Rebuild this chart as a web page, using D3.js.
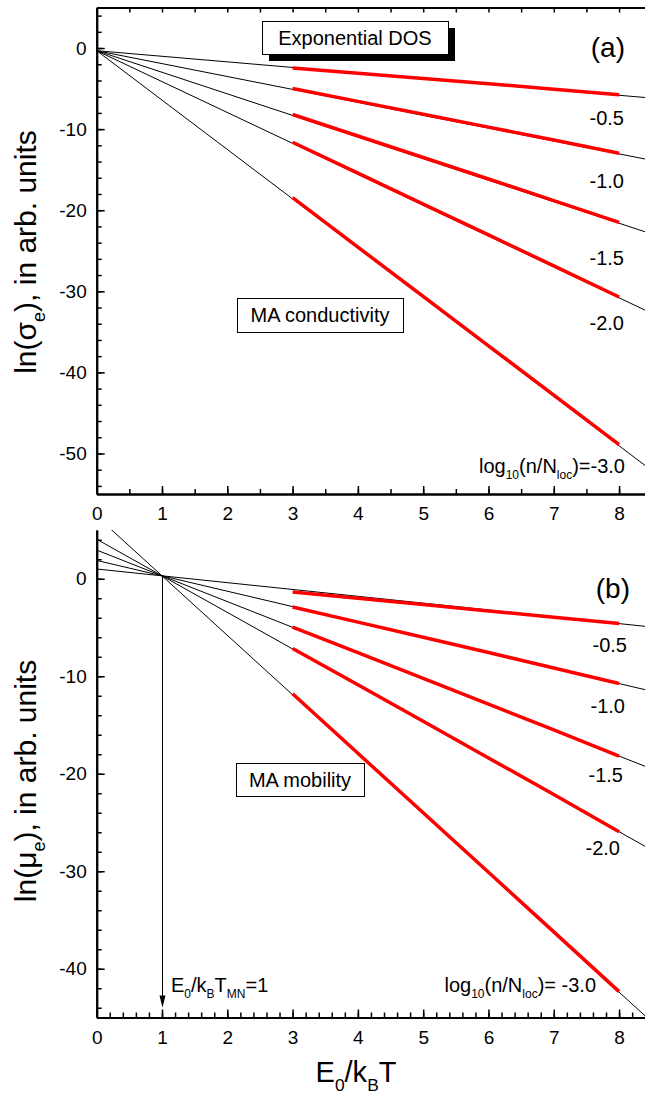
<!DOCTYPE html>
<html>
<head>
<meta charset="utf-8">
<script src="https://cdn.jsdelivr.net/npm/d3@7"></script>
<style>
  body { margin: 0; background: #fff; }
  svg { display: block; }
  text { font-family: "Liberation Sans", Arial, sans-serif; fill: #000; }
</style>
</head>
<body>
<svg></svg>
<script>
let svg = d3.select("svg").attr("width", 645).attr("height", 1094);

// tick labels
const xTicks = [0, 1, 2, 3, 4, 5, 6, 7, 8];
const sigmaTicks = [-50, -40, -30, -20, -10, 0];
const muTicks = [-40, -30, -20, -10, 0];
const densityLabels = ["-0.5", "-1.0", "-1.5", "-2.0"];

// simulated data (red), E0/kBT = 3..8
const redX = [3, 4, 5, 6, 7, 8];
const sigmaRed = [
  [-2.45, -3.1, -3.75, -4.4, -5.07, -5.75],
  [-5.0, -6.58, -8.16, -9.75, -11.35, -12.98],
  [-8.2, -10.85, -13.5, -16.15, -18.82, -21.5],
  [-11.62, -15.43, -19.24, -23.05, -26.86, -30.7],
  [-18.45, -24.55, -30.63, -36.72, -42.8, -48.9]
];
const muRed = [
  [-1.35, -2.0, -2.65, -3.3, -3.95, -4.6],
  [-2.9, -4.45, -6.0, -7.57, -9.15, -10.75],
  [-4.95, -7.58, -10.22, -12.86, -15.5, -18.2],
  [-7.15, -10.88, -14.62, -18.38, -22.12, -25.95],
  [-11.8, -17.9, -24.0, -30.1, -36.22, -42.35]
];

// straight fit lines (black), value at E0/kBT = 0 and 8.4
const fitX = [0, 8.4];
const sigmaFit = [
  [-0.33, -6.1],
  [-0.33, -13.69],
  [-0.33, -22.67],
  [-0.33, -32.33],
  [-0.33, -51.49]
];
const muFit = [
  [1.0, -4.88],
  [1.88, -11.38],
  [2.94, -19.24],
  [4.05, -27.45],
  [6.4, -44.84]
];

let x = d3.scaleLinear().domain([0, 8.4]).range([96.7, 645.2]);
let yTop = d3.scaleLinear().domain([-55, 5]).range([494, 7.5]);
let yBot = d3.scaleLinear().domain([-45, 5]).range([1017.5, 530]);

function styleAxis(g) {
  g.select(".domain").attr("stroke-width", 2);
  g.selectAll(".tick line").attr("stroke-width", 1.5);
  g.selectAll("text").attr("font-size", 19)
    .attr("font-family", "'Liberation Sans', Arial, sans-serif");
}

// text with subscripts: parts = [[text, isSub], ...]
function rich(t, parts, fs) {
  let shift = 0;
  parts.forEach(p => {
    let s = t.append("tspan").text(p[0]);
    if (p[1]) {
      s.attr("font-size", fs * 0.6).attr("dy", fs * 0.3 - shift);
      shift = fs * 0.3;
    } else if (shift) {
      s.attr("dy", -shift);
      shift = 0;
    }
  });
  return t;
}

function panel(y, yMin, yMax, yMajor, xMinorStep, red, fit, id, topBorder) {
  let g = svg.append("g");
  g.append("clipPath").attr("id", id).append("rect")
    .attr("x", x(0)).attr("y", y(yMax))
    .attr("width", x(8.4) - x(0)).attr("height", y(yMin) - y(yMax));

  let line = d3.line().x(d => x(d[0])).y(d => y(d[1]));
  let lines = g.append("g").attr("clip-path", `url(#${id})`);

  fit.forEach(f => {
    lines.append("path")
      .datum(fitX.map((v, i) => [v, f[i]]))
      .attr("d", line)
      .attr("fill", "none")
      .attr("stroke", "#000")
      .attr("stroke-width", 1);
  });
  red.forEach(r => {
    lines.append("path")
      .datum(redX.map((v, i) => [v, r[i]]))
      .attr("d", line)
      .attr("fill", "none")
      .attr("stroke", "#ff0000")
      .attr("stroke-width", 3.5);
  });

  // x axis
  g.append("g").attr("transform", `translate(0,${y(yMin)})`)
    .call(d3.axisBottom(x).tickValues(d3.range(0, 8.41, xMinorStep))
      .tickSizeInner(-5).tickSizeOuter(0).tickFormat(""))
    .call(styleAxis);
  g.append("g").attr("transform", `translate(0,${y(yMin)})`)
    .call(d3.axisBottom(x).tickValues(xTicks)
      .tickSizeInner(-8).tickSizeOuter(0).tickPadding(13)
      .tickFormat(d => String(d)))
    .call(styleAxis);

  // y axis
  g.append("g").attr("transform", `translate(${x(0)},0)`)
    .call(d3.axisLeft(y).tickValues(d3.range(yMin + 1, yMax, 2))
      .tickSizeInner(-5).tickSizeOuter(0).tickFormat(""))
    .call(styleAxis);
  g.append("g").attr("transform", `translate(${x(0)},0)`)
    .call(d3.axisLeft(y).tickValues(yMajor)
      .tickSizeInner(-8).tickSizeOuter(0).tickPadding(10)
      .tickFormat(d => String(d)))
    .call(styleAxis);

  if (topBorder) {
    g.append("g").attr("transform", `translate(0,${y(yMax)})`)
      .call(d3.axisTop(x).tickValues(d3.range(0, 8.41, 0.5))
        .tickSizeInner(-5).tickSizeOuter(0).tickFormat(""))
      .call(styleAxis);
  }
  return g;
}

panel(yTop, -55, 5, sigmaTicks, 0.5, sigmaRed, sigmaFit, "clipA", true);
panel(yBot, -45, 5, muTicks, 0.2, muRed, muFit, "clipB", false);

// annotation boxes
function box(x0, y0, w, h, label, shadow) {
  if (shadow) {
    svg.append("rect").attr("x", x0 + 7).attr("y", y0 + 7)
      .attr("width", w).attr("height", h).attr("fill", "#000");
  }
  svg.append("rect").attr("x", x0 + 0.5).attr("y", y0 + 0.5)
    .attr("width", w).attr("height", h)
    .attr("fill", "#fff").attr("stroke", "#000").attr("stroke-width", 1);
  svg.append("text").attr("x", x0 + w / 2).attr("y", y0 + h / 2 + 7)
    .attr("text-anchor", "middle").attr("font-size", 20).text(label);
}
box(262, 21, 186, 33, "Exponential DOS", true);
box(237, 298, 166, 34, "MA conductivity", false);
box(236, 763, 128, 33, "MA mobility", false);

// panel letters
svg.append("text").attr("x", 625).attr("y", 57).attr("text-anchor", "end")
  .attr("font-size", 28).text("(a)");
svg.append("text").attr("x", 630).attr("y", 598).attr("text-anchor", "end")
  .attr("font-size", 28).text("(b)");

// density labels
const topLabelY = [125, 188, 265, 330];
const botLabelY = [652, 713, 782, 855];
const botLabelX = [627, 625, 623, 620];
densityLabels.forEach((d, i) => {
  svg.append("text").attr("x", 624).attr("y", topLabelY[i])
    .attr("text-anchor", "end").attr("font-size", 20).text(d);
  svg.append("text").attr("x", botLabelX[i]).attr("y", botLabelY[i])
    .attr("text-anchor", "end").attr("font-size", 20).text(d);
});
rich(svg.append("text").attr("x", 625).attr("y", 473).attr("text-anchor", "end").attr("font-size", 20),
  [["log", 0], ["10", 1], ["(n/N", 0], ["loc", 1], [")=-3.0", 0]], 20);
rich(svg.append("text").attr("x", 596).attr("y", 992).attr("text-anchor", "end").attr("font-size", 20),
  [["log", 0], ["10", 1], ["(n/N", 0], ["loc", 1], [")= -3.0", 0]], 20);

// arrow marking E0/kBTMN = 1
let ax = x(1) + 0.5;
svg.append("line").attr("x1", ax).attr("x2", ax)
  .attr("y1", yBot(0.3)).attr("y2", yBot(-45) - 20)
  .attr("stroke", "#000").attr("stroke-width", 1);
svg.append("path")
  .attr("d", `M${ax - 3},${yBot(-45) - 22}L${ax + 3},${yBot(-45) - 22}L${ax},${yBot(-45) - 10}Z`)
  .attr("fill", "#000");
rich(svg.append("text").attr("x", 171).attr("y", 992).attr("font-size", 20),
  [["E", 0], ["0", 1], ["/k", 0], ["B", 1], ["T", 0], ["MN", 1], ["=1", 0]], 20);

// axis titles
rich(svg.append("text").attr("x", 356).attr("y", 1082).attr("text-anchor", "middle").attr("font-size", 29),
  [["E", 0], ["0", 1], ["/k", 0], ["B", 1], ["T", 0]], 29);
rich(svg.append("text").attr("transform", "translate(36,252) rotate(-90)")
  .attr("text-anchor", "middle").attr("font-size", 30),
  [["ln(σ", 0], ["e", 1], ["), in arb. units", 0]], 30);
rich(svg.append("text").attr("transform", "translate(36,781) rotate(-90)")
  .attr("text-anchor", "middle").attr("font-size", 30),
  [["ln(μ", 0], ["e", 1], ["), in arb. units", 0]], 30);
</script>
</body>
</html>
